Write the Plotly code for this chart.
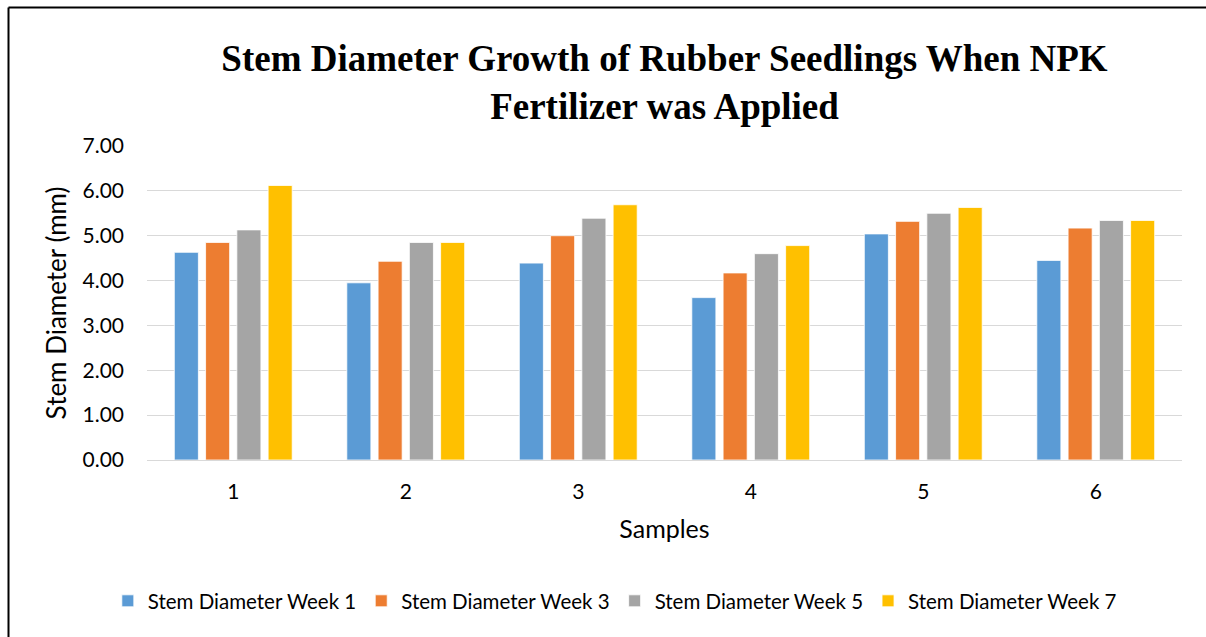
import plotly.graph_objects as go

samples = ["1", "2", "3", "4", "5", "6"]
week1 = [4.63, 3.95, 4.39, 3.62, 5.04, 4.45]
week3 = [4.85, 4.43, 5.00, 4.17, 5.32, 5.17]
week5 = [5.13, 4.85, 5.39, 4.60, 5.50, 5.34]
week7 = [6.12, 4.85, 5.69, 4.78, 5.63, 5.34]

series = [
    ("Stem Diameter Week 1", week1, "#5B9BD5"),
    ("Stem Diameter Week 3", week3, "#ED7D31"),
    ("Stem Diameter Week 5", week5, "#A5A5A5"),
    ("Stem Diameter Week 7", week7, "#FFC000"),
]

fig = go.Figure()
for name, vals, col in series:
    fig.add_trace(go.Bar(
        x=samples, y=vals, name=name,
        marker=dict(color=col, line=dict(color="white", width=0.8)),
    ))

W, H = 1206, 637
L, R, T, B = 147, 24, 146, 177
PW, PH = W - L - R, 460 - 146

def px(xp):
    return (xp - L) / PW

def py(yp):
    return (460 - yp) / PH

fig.update_layout(
    width=W, height=H,
    margin=dict(l=L, r=R, t=T, b=B),
    paper_bgcolor="white", plot_bgcolor="white",
    barmode="group", bargap=0.275, bargroupgap=0.23,
    font=dict(family="Lato, Open Sans, sans-serif", size=21, color="#000000"),
    title=dict(
        text="<b>Stem Diameter Growth of Rubber Seedlings When NPK<br>Fertilizer was Applied</b>",
        font=dict(family="Liberation Serif, Times New Roman, serif", size=37, color="#000000"),
        x=0.5, xref="paper", xanchor="center",
        y=1 - 71 / H, yref="container", yanchor="middle",
    ),
    xaxis=dict(
        showgrid=False, showline=True, linecolor="#D9D9D9", linewidth=1,
        ticks="", ticklabelstandoff=13, tickfont=dict(size=21),
        title=dict(text="Samples", standoff=18, font=dict(size=25)),
    ),
    yaxis=dict(
        range=[0, 7], dtick=1, tickformat=".2f",
        showgrid=True, gridcolor="#D9D9D9", gridwidth=1,
        zeroline=False, showline=False, ticks="",
        ticklabelstandoff=22, tickfont=dict(size=21),
        title=dict(text="Stem Diameter (mm)", standoff=8, font=dict(size=26)),
    ),
    legend=dict(
        orientation="h", x=0.452, xanchor="center",
        y=(H - 601) / H, yref="container", yanchor="middle",
        font=dict(size=20.5), itemwidth=30, traceorder="normal",
    ),
    shapes=[
        dict(type="line", xref="paper", yref="paper",
             x0=px(8.5), x1=px(8.5), y0=py(7.5), y1=py(H),
             line=dict(color="black", width=2), layer="below"),
        dict(type="line", xref="paper", yref="paper",
             x0=px(8.5), x1=px(W), y0=py(7.5), y1=py(7.5),
             line=dict(color="black", width=2), layer="below"),
    ],
)

fig.write_html("out.html", config={"displayModeBar": False},
               post_script="document.body.style.margin='0px';document.body.style.overflow='hidden';")
